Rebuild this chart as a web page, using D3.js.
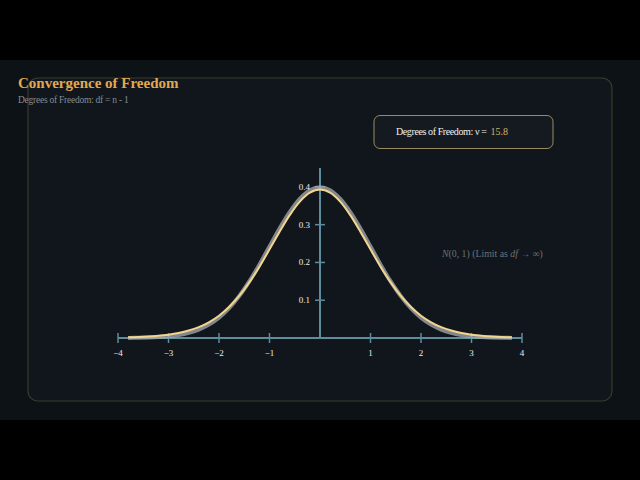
<!DOCTYPE html>
<html><head><meta charset="utf-8">
<script src="https://cdn.jsdelivr.net/npm/d3@7"></script>
<style>html,body{margin:0;padding:0;background:#000;}svg{display:block;}</style>
</head><body>
<script>
// Data
const xs = [-3.8,-3.6,-3.4,-3.2,-3.0,-2.8,-2.6,-2.4,-2.2,-2.0,-1.8,-1.6,-1.4,-1.2,-1.0,-0.8,-0.6,-0.4,-0.2,0,
            0.2,0.4,0.6,0.8,1.0,1.2,1.4,1.6,1.8,2.0,2.2,2.4,2.6,2.8,3.0,3.2,3.4,3.6,3.8];
const normalVals = [0.0003,0.0006,0.0012,0.0024,0.0044,0.0079,0.0136,0.0224,0.0355,0.0540,0.0790,0.1109,0.1497,0.1942,0.2420,0.2897,0.3332,0.3683,0.3910,0.3989,
            0.3910,0.3683,0.3332,0.2897,0.2420,0.1942,0.1497,0.1109,0.0790,0.0540,0.0355,0.0224,0.0136,0.0079,0.0044,0.0024,0.0012,0.0006,0.0003];
const tVals = [0.0017,0.0026,0.0039,0.0059,0.0089,0.0133,0.0197,0.0289,0.0416,0.0590,0.0820,0.1113,0.1471,0.1888,0.2346,0.2814,0.3251,0.3609,0.3845,0.3928,
            0.3845,0.3609,0.3251,0.2814,0.2346,0.1888,0.1471,0.1113,0.0820,0.0590,0.0416,0.0289,0.0197,0.0133,0.0089,0.0059,0.0039,0.0026,0.0017];
const xTicks = [-4,-3,-2,-1,1,2,3,4];
const yTicks = [0.1,0.2,0.3,0.4];
const dfValue = "15.8";

const W = 640, H = 480;
const svg = d3.select("body").append("svg").attr("width", W).attr("height", H);
svg.append("rect").attr("width", W).attr("height", H).attr("fill", "#000");
svg.append("rect").attr("x", 0).attr("y", 60).attr("width", W).attr("height", 360).attr("fill", "#0d1216");
svg.append("rect").attr("x", 28).attr("y", 78).attr("width", 584).attr("height", 323).attr("rx", 10)
  .attr("fill", "#10161c").attr("stroke", "#3a3a2e").attr("stroke-width", 1.2);

const serif = "'Liberation Serif','DejaVu Serif',serif";
svg.append("text").attr("x", 18).attr("y", 88).text("Convergence of Freedom")
  .attr("font-family", serif).attr("font-weight", "bold").attr("font-size", 15).attr("fill", "#e2a94e");
svg.append("text").attr("x", 18).attr("y", 103).text("Degrees of Freedom: df = n - 1")
  .attr("font-family", serif).attr("font-size", 9.5).attr("letter-spacing", -0.25).attr("fill", "#868b92");

// legend box
svg.append("rect").attr("x", 374).attr("y", 115.5).attr("width", 179).attr("height", 33).attr("rx", 6)
  .attr("fill", "#141a20").attr("stroke", "#9a8a62").attr("stroke-width", 1);
const lt = svg.append("text").attr("x", 396).attr("y", 135).attr("font-family", serif).attr("font-size", 10).attr("fill", "#f0f0f0");
lt.append("tspan").attr("letter-spacing", -0.4).text("Degrees of Freedom: ν = ");
lt.append("tspan").attr("fill", "#d8b46a").attr("dx", 2).text(dfValue);

const x = d3.scaleLinear().domain([-4, 4]).range([118, 522]);
const y = d3.scaleLinear().domain([0, 0.45]).range([338, 168]);
const axisCol = "#5b8d9c";

const g = svg.append("g");
// x axis
g.append("line").attr("x1", x(-4)).attr("x2", x(4)).attr("y1", y(0)).attr("y2", y(0)).attr("stroke", axisCol).attr("stroke-width", 2);
g.selectAll(".xt").data(xTicks).enter().append("line")
  .attr("x1", d => x(d)).attr("x2", d => x(d)).attr("y1", y(0) - 5).attr("y2", y(0) + 5)
  .attr("stroke", axisCol).attr("stroke-width", 1.5);
g.selectAll(".xl").data(xTicks).enter().append("text")
  .attr("x", d => x(d)).attr("y", y(0) + 18).attr("text-anchor", "middle")
  .attr("font-family", serif).attr("font-size", 9).attr("fill", "#ececec")
  .text(d => d < 0 ? "\u2212" + Math.abs(d) : d);
// y axis
g.append("line").attr("x1", x(0)).attr("x2", x(0)).attr("y1", y(0.45)).attr("y2", y(0)).attr("stroke", axisCol).attr("stroke-width", 2);
g.selectAll(".yt").data(yTicks).enter().append("line")
  .attr("x1", x(0) - 5).attr("x2", x(0) + 5).attr("y1", d => y(d)).attr("y2", d => y(d))
  .attr("stroke", axisCol).attr("stroke-width", 1.5);
g.selectAll(".yl").data(yTicks).enter().append("text")
  .attr("x", x(0) - 10).attr("y", d => y(d) + 3).attr("text-anchor", "end")
  .attr("font-family", serif).attr("font-size", 9).attr("fill", "#ececec")
  .text(d => d.toFixed(1));

const line = d3.line().x(d => x(d[0])).y(d => y(d[1])).curve(d3.curveCatmullRom);
svg.append("path").attr("d", line(xs.map((v, i) => [v, normalVals[i]])))
  .attr("fill", "none").attr("stroke", "#a9adb0").attr("stroke-opacity", 0.75).attr("stroke-width", 4);
svg.append("path").attr("d", line(xs.map((v, i) => [v, tVals[i]])))
  .attr("fill", "none").attr("stroke", "#f2d68e").attr("stroke-width", 2);

// limit label
const nl = svg.append("text").attr("x", 442).attr("y", 257).attr("font-family", serif).attr("font-size", 9.8).attr("fill", "#6c7178");
nl.append("tspan").attr("font-style", "italic").text("N");
nl.append("tspan").text("(0, 1) (Limit as ");
nl.append("tspan").attr("font-style", "italic").text("df");
nl.append("tspan").text(" \u2192 \u221e)");
</script>
</body></html>
